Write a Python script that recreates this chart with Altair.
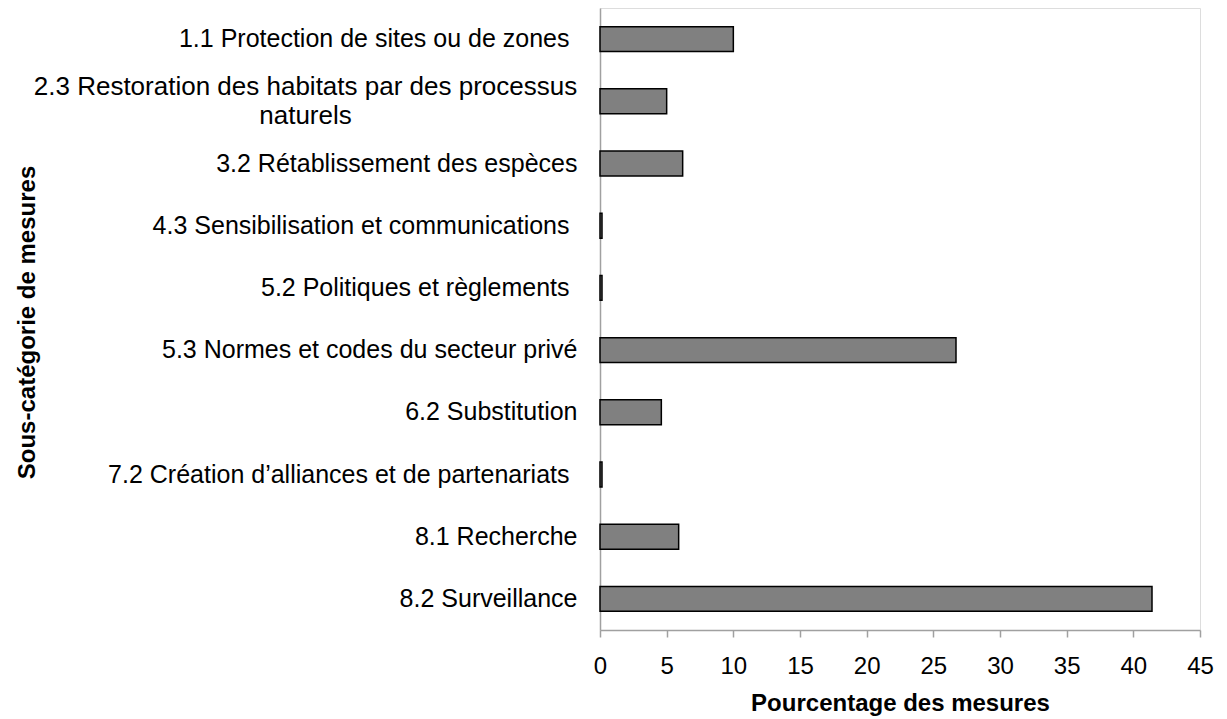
import altair as alt
import pandas as pd

categories = [
    "1.1 Protection de sites ou de zones",
    "2.3 Restoration des habitats par des processus naturels",
    "3.2 Rétablissement des espèces",
    "4.3 Sensibilisation et communications",
    "5.2 Politiques et règlements",
    "5.3 Normes et codes du secteur privé",
    "6.2 Substitution",
    "7.2 Création d’alliances et de partenariats",
    "8.1 Recherche",
    "8.2 Surveillance",
]
values = [10.0, 5.0, 6.2, 0.15, 0.15, 26.7, 4.6, 0.15, 5.9, 41.4]
x_ticks = [0, 5, 10, 15, 20, 25, 30, 35, 40, 45]
# labels that carry a trailing space in the original
trailing_space = [categories[0], categories[3], categories[4], categories[7]]
wrapped = categories[1]
wrapped_lines = ["2.3 Restoration des habitats par des processus", "naturels"]

df = pd.DataFrame({"cat": categories, "val": values})

FONT = "Liberation Sans"

pad_test = " || ".join(f"datum.value == '{c}'" for c in trailing_space)
wrap_test = f"datum.value == '{wrapped}'"

bars = alt.Chart(df).mark_bar(
    color="#808080", stroke="#000000", strokeWidth=1.5
).encode(
    x=alt.X(
        "val:Q",
        scale=alt.Scale(domain=[0, 45], nice=False, zero=True),
        axis=alt.Axis(
            values=x_ticks,
            title="Pourcentage des mesures",
            titleFont=FONT,
            titleFontSize=24,
            titleFontWeight="bold",
            titleColor="#000000",
            titleY=73,
            titleBaseline="middle",
            labelFont=FONT,
            labelFontSize=24,
            labelColor="#000000",
            labelPadding=17,
            tickSize=7,
            tickColor="#a0a0a0",
            tickWidth=1.5,
            domainColor="#a0a0a0",
            domainWidth=1.5,
            grid=False,
            labelFlush=False,
            labelOverlap=False,
        ),
    ),
    y=alt.Y(
        "cat:N",
        sort=categories,
        scale=alt.Scale(paddingInner=0.6, paddingOuter=0.3),
        axis=alt.Axis(
            title="Sous-catégorie de mesures",
            titleFont=FONT,
            titleFontSize=24,
            titleFontWeight="bold",
            titleColor="#000000",
            titleAngle=270,
            titleX=-573,
            titleY=314,
            titleAlign="center",
            titleBaseline="middle",
            labelFont=FONT,
            labelFontSize={
                "condition": {"test": wrap_test, "value": 26},
                "value": 25,
            },
            labelColor="#000000",
            labelLimit=0,
            labelLineHeight=29,
            labelExpr=(
                f"{wrap_test} ? ['{wrapped_lines[0]}', '{wrapped_lines[1]}'] : datum.value"
            ),
            labelAlign={
                "condition": {"test": wrap_test, "value": "center"},
                "value": "right",
            },
            labelOffset={
                "condition": {"test": wrap_test, "value": -14},
                "value": 0,
            },
            labelPadding={
                "condition": [
                    {"test": wrap_test, "value": 295},
                    {"test": pad_test, "value": 31},
                ],
                "value": 23,
            },
            ticks=False,
            domainColor="#a0a0a0",
            domainWidth=1.5,
            grid=False,
            labelOverlap=False,
        ),
    ),
)

chart = bars.properties(
    width=600,
    height=622,
    padding={"left": 592, "top": 0, "right": 19, "bottom": 89},
    autosize=alt.AutoSizeParams(type="none"),
).configure_view(stroke=None).configure(background="#ffffff")

chart.save("out.html", embed_options={"renderer": "svg", "actions": False})
